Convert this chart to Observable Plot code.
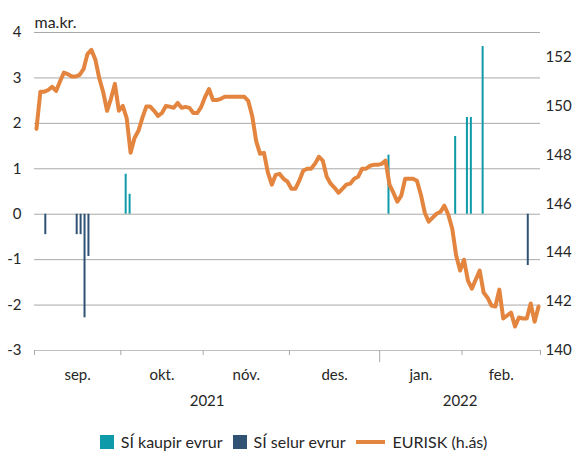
<!DOCTYPE html>
<html>
<head>
<meta charset="utf-8">
<script src="https://cdn.jsdelivr.net/npm/d3@7"></script>
<script src="https://cdn.jsdelivr.net/npm/@observablehq/plot@0.6"></script>
<style>
  body { margin: 0; background: #fff; font-family: Lato, "Open Sans", sans-serif; }
  #legend { display: flex; justify-content: center; align-items: center; font-size: 16px; color: #262626; margin-top: 7px; padding-left: 6px; }
  #legend .item { display: flex; align-items: center; margin: 0 5px; }
  #legend .sw { width: 14px; height: 14px; margin-right: 7px; }
  #legend .ln { width: 29px; height: 4px; margin-right: 8px; }
</style>
</head>
<body>
<div id="chart"></div>
<div id="legend"></div>
<script>
// Categories: months (trading days per month) and years
const months = ["sep.", "okt.", "nóv.", "des.", "jan.", "feb."];
const monthDays = [22, 21, 22, 23, 21, 20];
const years = ["2021", "2022"];
const yearMonthCounts = [4, 2];

// EUR/ISK daily rate (right axis)
const eurisk = [
  149.06, 150.58, 150.58, 150.65, 150.78, 150.61, 151.0, 151.36, 151.3, 151.2,
  151.2, 151.27, 151.5, 152.12, 152.29, 151.9, 151.14, 150.57, 149.8, 150.3,
  150.9, 149.8, 150.0, 149.5, 148.08, 148.69, 148.98, 149.51, 149.97, 149.97,
  149.8, 149.59, 149.71, 150.0, 149.97, 149.92, 150.12, 149.92, 149.96, 149.92,
  149.71, 149.71, 149.96, 150.37, 150.69, 150.24, 150.24, 150.29, 150.37, 150.37,
  150.37, 150.37, 150.37, 150.37, 150.2, 149.59, 148.57, 148.04, 148.08, 147.27,
  146.78, 147.18, 147.22, 147.02, 146.9, 146.61, 146.61, 146.94, 147.35, 147.43,
  147.43, 147.63, 147.92, 147.76, 147.1, 146.82, 146.65, 146.45, 146.61, 146.78,
  146.82, 147.02, 147.1, 147.43, 147.43, 147.55, 147.59, 147.59, 147.63, 147.76,
  146.78, 146.45, 146.08, 146.33, 147.02, 147.02, 147.02, 146.94, 146.37, 145.63,
  145.27, 145.43, 145.59, 145.67, 145.92, 145.55, 144.98, 143.88, 143.27, 143.71,
  142.86, 142.53, 142.9, 143.27, 142.37, 142.16, 141.84, 141.8, 142.49, 141.31,
  141.43, 141.55, 140.98, 141.35, 141.31, 141.31, 141.92, 141.18, 141.8
];

// Central bank interventions (ma.kr.), by trading-day index
const buyDays = [23, 24, 90, 107, 110, 111, 114];
const buyValues = [0.88, 0.44, 1.3, 1.71, 2.13, 2.13, 3.69];
const sellDays = [2, 10, 11, 12, 13, 125];
const sellValues = [-0.45, -0.45, -0.45, -2.28, -0.93, -1.13];

// Axis ticks
const leftTicks = [-3, -2, -1, 0, 1, 2, 3, 4];
const rightTicks = [140, 142, 144, 146, 148, 150, 152];
const rightMin = 140, rightMax = 153;

const teal = "#0e9aa9", navy = "#2f5275", orange = "#e3853f";

const L0 = leftTicks[0], L1 = leftTicks[leftTicks.length - 1];
const toLeft = r => L0 + (r - rightMin) * (L1 - L0) / (rightMax - rightMin);
const fromLeft = l => rightMin + (l - L0) * (rightMax - rightMin) / (L1 - L0);

const bounds = [0];
monthDays.forEach(n => bounds.push(bounds[bounds.length - 1] + n));
const nDays = bounds[bounds.length - 1];
const monthMids = months.map((m, i) => (bounds[i] + bounds[i + 1]) / 2);
const yearBounds = [0];
let mi = 0;
yearMonthCounts.forEach(c => { mi += c; yearBounds.push(bounds[mi]); });
const yearMids = years.map((y, i) => (yearBounds[i] + yearBounds[i + 1]) / 2);

const lineData = eurisk.map((v, i) => ({x: i + 0.5, y: toLeft(v)}));
const buyData = buyDays.map((d, i) => ({x: d + 0.5, v: buyValues[i]}));
const sellData = sellDays.map((d, i) => ({x: d + 0.5, v: sellValues[i]}));

const chart = Plot.plot({
  width: 581, height: 425,
  marginLeft: 34, marginRight: 41, marginTop: 32, marginBottom: 75,
  x: {domain: [0, nDays]},
  y: {domain: [L0, L1]},
  style: {fontFamily: "Lato, 'Open Sans', sans-serif", fontSize: "15px", color: "#262626", background: "#fff"},
  marks: [
    Plot.gridY(leftTicks.filter(t => t > L0), {stroke: "#a9a9a9", strokeOpacity: 1}),
    Plot.ruleY([L0], {stroke: "#c0c0c0", strokeWidth: 1.2}),
    Plot.ruleX(buyData, {x: "x", y1: 0, y2: "v", stroke: teal, strokeWidth: 2, dx: -1}),
    Plot.ruleX(sellData, {x: "x", y1: 0, y2: "v", stroke: navy, strokeWidth: 2, dx: 1}),
    Plot.line(lineData, {x: "x", y: "y", stroke: orange, strokeWidth: 4, strokeLinejoin: "round"}),
    Plot.axisY({anchor: "left", ticks: leftTicks, tickSize: 0, tickPadding: 13, tickFormat: d => String(d), label: null}),
    Plot.axisY({anchor: "right", ticks: rightTicks.map(toLeft), tickFormat: d => String(Math.round(fromLeft(d))), tickSize: 0, tickPadding: 5, label: null}),
    Plot.axisX({ticks: bounds.filter(b => !yearBounds.slice(1, -1).includes(b)), tickSize: 5, tickFormat: () => "", stroke: "#a9a9a9", label: null}),
    Plot.axisX({ticks: yearBounds.slice(1, -1), tickSize: 12, tickFormat: () => "", stroke: "#a9a9a9", label: null}),
    Plot.axisX({ticks: monthMids, tickSize: 0, tickPadding: 19, tickFormat: d => months[monthMids.indexOf(d)], label: null}),
    Plot.axisX({ticks: yearMids, tickSize: 0, tickPadding: 45, tickFormat: d => years[yearMids.indexOf(d)], label: null}),
    Plot.text(["ma.kr."], {frameAnchor: "top-left", dy: -16, dx: 0, textAnchor: "start", fontSize: 16, fill: "#262626"})
  ]
});
document.getElementById("chart").appendChild(chart);

const legendItems = [
  {label: "SÍ kaupir evrur", color: teal, type: "sw"},
  {label: "SÍ selur evrur", color: navy, type: "sw"},
  {label: "EURISK (h.ás)", color: orange, type: "ln"}
];
const legend = document.getElementById("legend");
legendItems.forEach(it => {
  const d = document.createElement("div");
  d.className = "item";
  const s = document.createElement("span");
  s.className = it.type;
  s.style.background = it.color;
  d.appendChild(s);
  d.appendChild(document.createTextNode(it.label));
  legend.appendChild(d);
});
</script>
</body>
</html>
